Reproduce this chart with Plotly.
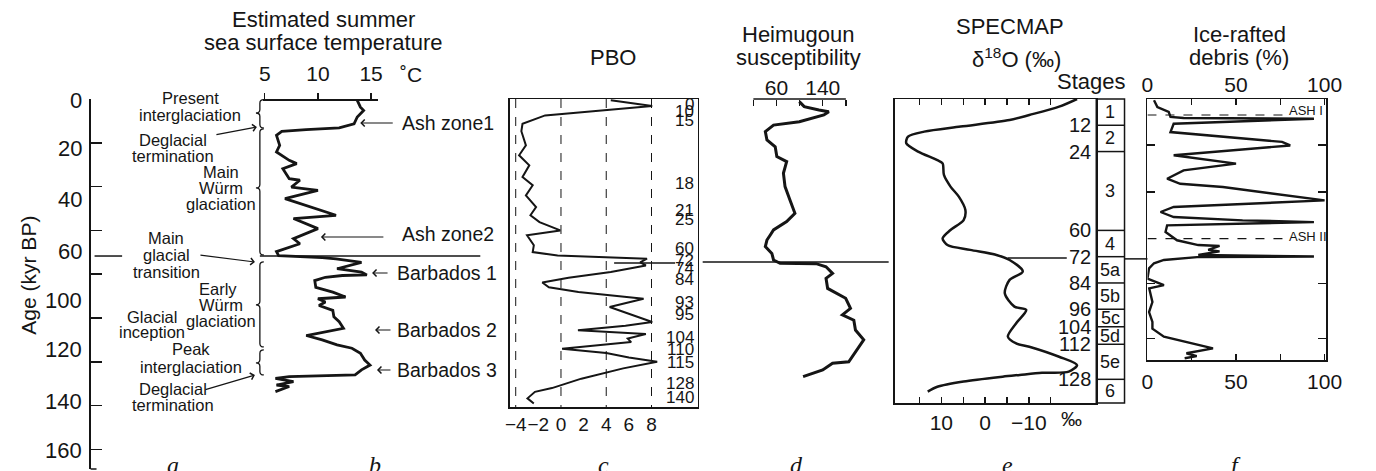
import plotly.graph_objects as go

# ---------------- data ----------------
# b: estimated summer sea surface temperature (deg C) vs age (kyr BP)
sst_age = [0.6, 3.7, 5.2, 8.2, 11.3, 12.0, 13.2, 14.0, 14.8, 16.6, 21.2, 24.2, 28.0, 29.5, 31.8,
           36.4, 37.1, 40.2, 41.7, 45.5, 49.3, 53.1, 54.6, 56.9, 59.2, 63.8, 66.1, 69.7, 71.5,
           72.4, 73.0, 74.6, 77.5, 79.0, 80.3, 80.6, 81.4, 82.9, 86.0, 88.2, 90.4, 91.2, 92.7,
           94.3, 96.5, 99.4, 101.7, 104.7, 105.4, 108.0, 110.0, 112.3, 113.8, 116.1, 119.2,
           121.5, 123.7, 126.0, 126.8, 127.6, 129.1, 130.6, 131.3, 133.6]
sst_temp = [13.7, 14.0, 14.3, 13.7, 13.4, 12.9, 12.0, 8.9, 6.6, 6.1, 6.4, 6.1, 7.3, 8.0, 6.7,
            7.3, 8.3, 7.5, 10.0, 6.9, 9.2, 11.7, 7.7, 8.9, 10.0, 7.7, 8.3, 6.1, 6.3,
            10.4, 11.7, 14.1, 11.8, 14.1, 14.6, 12.3, 10.7, 9.7, 9.8, 11.4, 12.6, 10.0, 10.7,
            10.1, 11.4, 11.5, 12.0, 12.4, 11.7, 8.9, 10.4, 11.8, 13.2, 14.0, 14.4,
            14.9, 14.1, 13.5, 7.3, 6.0, 7.7, 6.1, 7.3, 6.0]

# c: PBO
pbo_age = [0.6, 3.2, 7.5, 11.3, 14.7, 21.2, 25.7, 30.3, 35.6, 39.4, 44.0, 49.3, 53.1, 56.2,
           60.0, 62.2, 66.8, 69.9, 71.5, 72.9, 74.6, 76.0, 79.0, 81.6, 83.8, 86.0, 88.1, 91.2,
           95.0, 101.8, 103.5, 105.6, 107.3, 109.4, 111.0, 114.0, 116.0, 118.0, 120.0, 123.0,
           127.7, 132.0, 133.7, 136.7, 139.0]
pbo_val = [4.4, 8.06, -1.4, -3.4, -3.5, -3.1, -3.7, -2.8, -3.4, -2.5, -3.1, -2.2, -2.7, -1.9,
           -0.06, -3.0, -2.4, -2.5, -0.3, 7.6, 7.0, 7.5, 4.4, 0.67, -1.65, -1.07, 1.54, 7.3,
           4.3, 8.06, 5.7, 1.5, 7.5, 5.9, 6.2, 0.1, 4.0, 6.0, 8.5, 5.5,
           1.8, -0.8, -2.3, -2.96, -2.4]

# d: Heimugoun susceptibility
sus_age = [1.2, 3.5, 5.0, 5.8, 7.3, 10.4, 11.9, 14.9, 18.7, 21.8, 26.3, 28.6, 33.9, 40.0, 46.1,
           52.2, 56.0, 59.8, 62.1, 64.4, 67.4, 70.5, 73.5, 75.0, 75.2, 76.6, 79.6, 81.9, 86.5,
           91.0, 95.6, 98.6, 101.0, 105.5, 110.0, 115.4, 120.0, 120.7, 123.7, 126.8]
sus_val = [99.5, 108, 133.5, 150.5, 142, 99.5, 54.9, 40.7, 43.5, 57.8, 60.6, 77.6, 72, 74.8, 83.3,
           91.9, 77.6, 54.9, 49.3, 43.5, 40.7, 52, 54.9, 66.3, 128.6, 145.7, 157, 145.7, 148.5,
           179.7, 188, 174, 193.8, 196.6, 210.9, 196.6, 185, 157, 140, 106]

# e: SPECMAP d18O (per mil)
d18o_age = [0.0, 3.5, 7.3, 9.6, 12.6, 14.9, 17.2, 20.2, 24.0, 27.9, 29.4, 34.7, 40.0, 44.6, 50.7,
            55.3, 59.8, 63.6, 66.7, 68.9, 71.2, 73.5, 78.8, 82.6, 88.7, 94.8, 96.3, 102.4, 108.5,
            111.6, 113.1, 117.7, 121.5, 124.5, 125.0, 126.0, 126.8, 129.0, 131.4, 133.6]
d18o_val = [-21, -16.9, -10.1, -5.6, 5.6, 13.9, 17.6, 18.0, 15.3, 10.9, 9.7, 9.4, 7.9, 6.0, 4.5,
            4.9, 7.9, 9.7, 8.6, 3.4, -2.6, -5.6, -8.6, -5.6, -4.5, -6.7, -9.4, -7.1, -5.2,
            -7.1, -10.1, -16.9, -21.0, -19.1, -13.0, -7.9, -4.0, 4.9, 10.9, 13.1]

# f: ice-rafted debris (%)
ird_age = [0.6, 3.7, 5.9, 8.2, 8.7, 9.0, 11.3, 15.1, 19.6, 21.2, 25.7, 29.5, 32.6, 36.4, 38.7,
           40.2, 46.3, 49.3, 51.6, 53.9, 55.4, 56.2, 57.7, 60.7, 64.5, 66.7, 67.1, 68.9, 69.6,
           71.2, 71.9, 72.2, 73.5, 75.0, 77.3, 82.0, 85.0, 86.5, 92.7, 97.3, 101.8, 104.9,
           108.5, 113.9, 116.1, 117.4, 118.4]
ird_val = [3.7, 5.6, 12.0, 13.0, 20.4, 94.0, 14.8, 13.0, 76.0, 80.6, 14.8, 50.0, 20.4, 11.1, 18.5,
           42.6, 100.0, 14.8, 7.4, 14.8, 53.7, 94.0, 11.1, 10.2, 16.7, 28.7, 40.7, 34.3, 40.7,
           28.7, 94.0, 28.0, 9.3, 3.7, 0.9, 0.0, 9.3, 1.0, 2.8, 0.9, 2.8, 2.8,
           9.3, 37.0, 22.0, 27.8, 21.0]

# ticks / labels
age_ticks = [0, 20, 40, 60, 80, 100, 120, 140, 160]
age_tick_labels = ['0', '20', '40', '60', '100', '120', '140', '160']
age_tick_label_pos = [0.5, 22.8, 46.1, 69.7, 91.8, 114.6, 138.2, 160.3]   # as printed (kyr)
sst_ticks = [5, 10, 15]
pbo_ticks = [-4, -2, 0, 2, 4, 6, 8]
pbo_tick_labels = ['\u22124', '\u22122', '0', '2', '4', '6', '8']
pbo_dashed = [-4, 0, 4, 8]
pbo_marks = ['0', '10', '15', '18', '21', '25', '60', '72', '74', '84', '93', '95', '104', '110',
             '115', '128', '140']
pbo_mark_pos = [2.3, 5.5, 9.6, 38.4, 51.1, 54.8, 68.3, 73.8, 77.6, 82.6, 92.7, 98.6, 109.1,
                114.6, 120.1, 130.1, 136.1]
sus_ticks = [20, 60, 100, 140, 180]
sus_tick_labels = ['', '60', '', '140', '']
d18o_ticks = [15, 10, 5, 0, -5, -10, -15]
d18o_tick_labels = ['', '10', '', '0', '', '\u221210', '']
ird_ticks = [0, 25, 50, 75, 100]
ird_tick_labels = ['0', '', '50', '', '100']
ird_side_ticks = [21.0, 42.5, 84.3, 109.5]
ash_names = ['ASH I', 'ASH II']
ash_ages = [7.3, 63.8]
stage_bounds = [12, 24, 60, 72, 84, 96, 104, 112, 128]
stage_names = ['1', '2', '3', '4', '5a', '5b', '5c', '5d', '5e', '6']

# ---------------- geometry ----------------
W, H = 1376, 471
AGE0 = 99.0        # pixel row of age 0
KPX = 2.19         # pixels per kyr
INK = '#151515'
FONT = 'Liberation Sans, Arial, sans-serif'


def px(x):
    return x / W


def py(y):
    return 1 - y / H


def age_at(y):
    return (y - AGE0) / KPX


def dom(a, b):
    return [a / W, b / W]


# value scales (pixel -> value)
def sst_v(x): return 5 + (x - 263) / 10.8
def pbo_v(x): return (x - 564) / 11.5
def sus_v(x): return 60 + (x - 783) / 0.5875
def d18_v(x): return (995 - x) / 4.45
def ird_v(x): return (x - 1160) / 1.8


fig = go.Figure()
common = dict(mode='lines', showlegend=False, hoverinfo='skip')
fig.add_trace(go.Scatter(x=sst_temp, y=sst_age, xaxis='x2', yaxis='y',
                         line=dict(color=INK, width=2.8), **common))
fig.add_trace(go.Scatter(x=pbo_val, y=pbo_age, xaxis='x3', yaxis='y3',
                         line=dict(color=INK, width=2.0), **common))
fig.add_trace(go.Scatter(x=sus_val, y=sus_age, xaxis='x4', yaxis='y',
                         line=dict(color=INK, width=3.0), **common))
fig.add_trace(go.Scatter(x=d18o_val, y=d18o_age, xaxis='x5', yaxis='y5',
                         line=dict(color=INK, width=2.5, shape='spline', smoothing=0.8), **common))
fig.add_trace(go.Scatter(x=ird_val, y=ird_age, xaxis='x6', yaxis='y6',
                         line=dict(color=INK, width=2.4), **common))
# placeholders so the helper axes are drawn
fig.add_trace(go.Scatter(x=[None], y=[None], xaxis='x8', yaxis='y2', **common))
fig.add_trace(go.Scatter(x=[None], y=[None], xaxis='x7', yaxis='y6', **common))

noax = dict(showgrid=False, zeroline=False)
tickf = dict(family=FONT, size=21, color=INK)

fig.update_layout(
    width=W, height=H, margin=dict(l=0, r=0, t=0, b=0),
    paper_bgcolor='white', plot_bgcolor='rgba(0,0,0,0)',
    font=dict(family=FONT, color=INK),
    xaxis=dict(domain=[0, 1], range=[0, 1], visible=False, anchor='y'),
    yaxis=dict(domain=[0, 1], range=[age_at(H), age_at(0)], visible=False, anchor='x'),
    # a: age axis (anchored to a thin invisible x axis at its left edge)
    xaxis8=dict(domain=dom(86, 90), range=[0, 1], visible=False, anchor='y2'),
    yaxis2=dict(domain=[py(469), py(AGE0)], range=[age_at(469), 0], anchor='x8',
                side='left', showline=True, linecolor=INK, linewidth=1.5,
                ticks='inside', ticklen=11, tickwidth=1.5, tickcolor=INK, tickvals=age_ticks,
                showticklabels=False, **noax),
    # b: SST top axis
    xaxis2=dict(domain=dom(261, 378), range=[sst_v(261), sst_v(378)], anchor='free',
                position=py(AGE0), side='top', showline=True, linecolor=INK, linewidth=1.5,
                ticks='outside', ticklen=6, tickwidth=1.3, tickcolor=INK, tickvals=sst_ticks,
                tickfont=tickf, ticklabelstandoff=4, tickangle=0, **noax),
    # c: PBO box
    xaxis3=dict(domain=dom(512, 703), range=[pbo_v(512), pbo_v(703)], anchor='y3', side='bottom',
                showline=True, mirror=True, linecolor=INK, linewidth=1.5, ticks='',
                tickvals=pbo_ticks, ticktext=pbo_tick_labels, tickangle=0,
                tickfont=dict(family=FONT, size=19, color=INK), ticklabelstandoff=0, **noax),
    yaxis3=dict(domain=[py(407), py(AGE0)], range=[age_at(407), 0], anchor='x3',
                showline=True, mirror=True, linecolor=INK, linewidth=1.5, ticks='',
                showticklabels=False, **noax),
    # d: susceptibility top axis
    xaxis4=dict(domain=dom(740, 900), range=[sus_v(740), sus_v(900)], anchor='free',
                position=py(AGE0), side='top', showline=False, ticks='inside', ticklen=6,
                tickwidth=1.3, tickcolor=INK, tickvals=sus_ticks, ticktext=sus_tick_labels,
                tickfont=tickf, ticklabelstandoff=0, tickangle=0, **noax),
    # e: SPECMAP box
    xaxis5=dict(domain=dom(903, 1108), range=[d18_v(903), d18_v(1108)], anchor='y5', side='bottom',
                showline=True, mirror='ticks', linecolor=INK, linewidth=1.5, ticks='inside',
                ticklen=6, tickwidth=1.3, tickcolor=INK, tickvals=d18o_ticks,
                ticktext=d18o_tick_labels, tickfont=tickf, ticklabelstandoff=0, tickangle=0, **noax),
    yaxis5=dict(domain=[py(403), py(AGE0)], range=[age_at(403), 0], anchor='x5',
                showline=True, mirror=True, linecolor=INK, linewidth=1.5, ticks='',
                showticklabels=False, **noax),
    # f: IRD box
    xaxis6=dict(domain=dom(1160, 1341.7), range=[0, ird_v(1341.7)], anchor='y6', side='bottom',
                showline=True, mirror=True, linecolor=INK, linewidth=1.5, ticks='inside',
                ticklen=6, tickwidth=1.3, tickcolor=INK, tickvals=ird_ticks,
                ticktext=ird_tick_labels, tickfont=tickf, ticklabelstandoff=2, tickangle=0, **noax),
    xaxis7=dict(overlaying='x6', range=[0, ird_v(1341.7)], anchor='y6', side='top',
                showline=False, ticks='inside', ticklen=6, tickwidth=1.3, tickcolor=INK,
                tickvals=ird_ticks, ticktext=ird_tick_labels, tickfont=tickf,
                ticklabelstandoff=2, tickangle=0, **noax),
    yaxis6=dict(domain=[py(360), py(AGE0)], range=[age_at(360), 0], anchor='x6',
                showline=True, mirror='ticks', linecolor=INK, linewidth=1.5, ticks='inside',
                ticklen=8, tickwidth=1.3, tickcolor=INK, tickvals=ird_side_ticks,
                showticklabels=False, **noax),
)

shapes = []
ln = dict(color=INK, width=1.5)
# main glacial transition marker segments (x pixel range, age)
for x0, x1, a in [(90, 118, 71.7), (258, 482, 71.7), (618, 680, 74.9), (708, 897, 74.4),
                  (1018, 1078, 72.6), (1137, 1160, 73.0)]:
    shapes.append(dict(type='line', xref='paper', yref='y', x0=px(x0), x1=px(x1), y0=a, y1=a, line=ln))
# age axis continues a little below the last tick
shapes.append(dict(type='line', xref='paper', yref='y', x0=px(86), x1=px(92),
                   y0=age_at(469), y1=age_at(469), line=ln))
# PBO dashed reference lines
for v in pbo_dashed:
    shapes.append(dict(type='line', xref='x3', yref='y3', x0=v, x1=v, y0=0, y1=age_at(407),
                       line=dict(color=INK, width=1, dash='dash')))
# susceptibility axis line
shapes.append(dict(type='line', xref='x4', yref='y', x0=sus_ticks[0], x1=sus_ticks[-1], y0=0, y1=0, line=ln))
# ASH dashed lines
for a in ash_ages:
    shapes.append(dict(type='line', xref='x6', yref='y6', x0=0, x1=ird_v(1300), y0=a, y1=a,
                       line=dict(color=INK, width=1.2, dash='dash')))
# stages column
sc0, sc1 = px(1108), px(1136.7)
shapes.append(dict(type='rect', xref='paper', yref='y', x0=sc0, x1=sc1, y0=0, y1=age_at(403),
                   line=ln, fillcolor='rgba(0,0,0,0)'))
for b in stage_bounds:
    shapes.append(dict(type='line', xref='paper', yref='y', x0=sc0, x1=sc1, y0=b, y1=b, line=ln))


# braces
def brace(xp, a0, a1, am):
    xl, xc, xr = px(xp - 4), px(xp), px(xp + 4)
    r = 1.6
    return (f"M{xr},{a0} Q{xc},{a0} {xc},{a0 + r} L{xc},{am - r} Q{xc},{am} {xl},{am} "
            f"Q{xc},{am} {xc},{am + r} L{xc},{a1 - r} Q{xc},{a1} {xr},{a1}")


for a0, a1, am in [(0.3, 13.2, 6.4), (13.6, 71.2, 40.6), (74.4, 113.2, 94.0), (114.6, 126.0, 120.5)]:
    shapes.append(dict(type='path', xref='paper', yref='y', path=brace(258, a0, a1, am),
                       line=dict(color=INK, width=1.3)))
fig.update_layout(shapes=shapes)

ann = []


def T(text, x, y, size=16.5, xanchor='center', family=FONT, **kw):
    ann.append(dict(text=text, x=px(x), y=py(y), xref='paper', yref='paper', showarrow=False,
                    xanchor=xanchor, yanchor='middle', font=dict(size=size, color=INK, family=family), **kw))


def TA(text, x, age, size, xanchor, xref='paper', yref='y', xshift=0):
    ann.append(dict(text=text, x=x, y=age, xref=xref, yref=yref, showarrow=False, xanchor=xanchor,
                    yanchor='middle', xshift=xshift, font=dict(size=size, color=INK, family=FONT)))


def A(xt, yt, xs, ys):
    ann.append(dict(text='', x=px(xt), y=py(yt), xref='paper', yref='paper', ax=xs - xt, ay=ys - yt,
                    axref='pixel', ayref='pixel', showarrow=True, arrowhead=4, arrowsize=1.1,
                    arrowwidth=1.2, arrowcolor=INK, font=dict(size=12)))


# age axis labels (as printed) and title
for lab, a in zip(age_tick_labels, age_tick_label_pos):
    TA(lab, px(79), a, 22, 'right')
T('Age (kyr BP)', 22, 275, size=21, textangle=-90)

# panel a text
for x, y, t in [(187, 98, 'Present'), (187, 115, 'interglaciation'),
                (170, 140, 'Deglacial'), (170, 156, 'termination'),
                (218, 172, 'Main'), (218, 188, 'Würm'), (218, 204, 'glaciation'),
                (163, 238, 'Main'), (163, 255, 'glacial'), (163, 272, 'transition'),
                (215, 289, 'Early'), (218, 305, 'Würm'), (218, 321, 'glaciation'),
                (148, 317, 'Glacial'), (148, 332, 'inception'),
                (188, 349, 'Peak'), (188, 367, 'interglaciation'),
                (170, 389, 'Deglacial'), (170, 405, 'termination')]:
    T(t, x, y)
A(255, 127, 213, 135)
A(253, 262, 197, 255)
A(253, 375, 202, 390)

# panel b text
T('Estimated summer', 323, 20, size=22)
T('sea surface temperature', 322, 43, size=22)
T('\u02daC', 412, 75, size=21)
for x, y, t, xt, xs, ya in [(400, 123, 'Ash zone1', 360, 394, 123), (400, 234, 'Ash zone2', 320, 384, 237),
                            (395, 273, 'Barbados 1', 372, 389, 273), (395, 330, 'Barbados 2', 375, 392, 330),
                            (395, 370, 'Barbados 3', 377, 392, 370)]:
    T(t, x, y, size=19.5, xanchor='left')
    A(xt, ya, xs, ya)

# panel c
T('PBO', 617, 58, size=22)
for lab, a in zip(pbo_marks, pbo_mark_pos):
    TA(lab, px(701), a, 17, 'right')

# panel d
T('Heimugoun', 805, 35, size=22)
T('susceptibility', 805, 58, size=22)

# panel e
T('SPECMAP', 1020, 27, size=22)
T('\u03b4<sup>18</sup>O (\u2030)', 1027, 58, size=22)
T('\u2030', 1083, 418, size=21)
T('Stages', 1103, 82, size=22)
bounds_all = [0] + stage_bounds + [age_at(403)]
for i, name in enumerate(stage_names):
    TA(name, (sc0 + sc1) / 2, (bounds_all[i] + bounds_all[i + 1]) / 2, 18, 'center')
for b in stage_bounds:
    TA(str(b), px(1105), b, 20, 'right')

# panel f
T('Ice-rafted', 1254, 35, size=22)
T('debris (%)', 1253, 58, size=22)
for name, y in zip(ash_names, [111, 236]):
    T(name, 1302, y, size=13, xanchor='left')

# panel letters
for x, t in [(170, 'a'), (375, 'b'), (607, 'c'), (803, 'd'), (1018, 'e'), (1250, 'f')]:
    ann.append(dict(text=t, x=px(x), y=py(450), xref='paper', yref='paper', showarrow=False,
                    xanchor='center', yanchor='top',
                    font=dict(size=24, color=INK, family='Liberation Serif, Times New Roman, serif',
                              style='italic')))

fig.update_layout(annotations=ann)
fig.write_html('out.html', config={'displayModeBar': False, 'staticPlot': True},
               post_script="document.body.style.margin='0px';")
